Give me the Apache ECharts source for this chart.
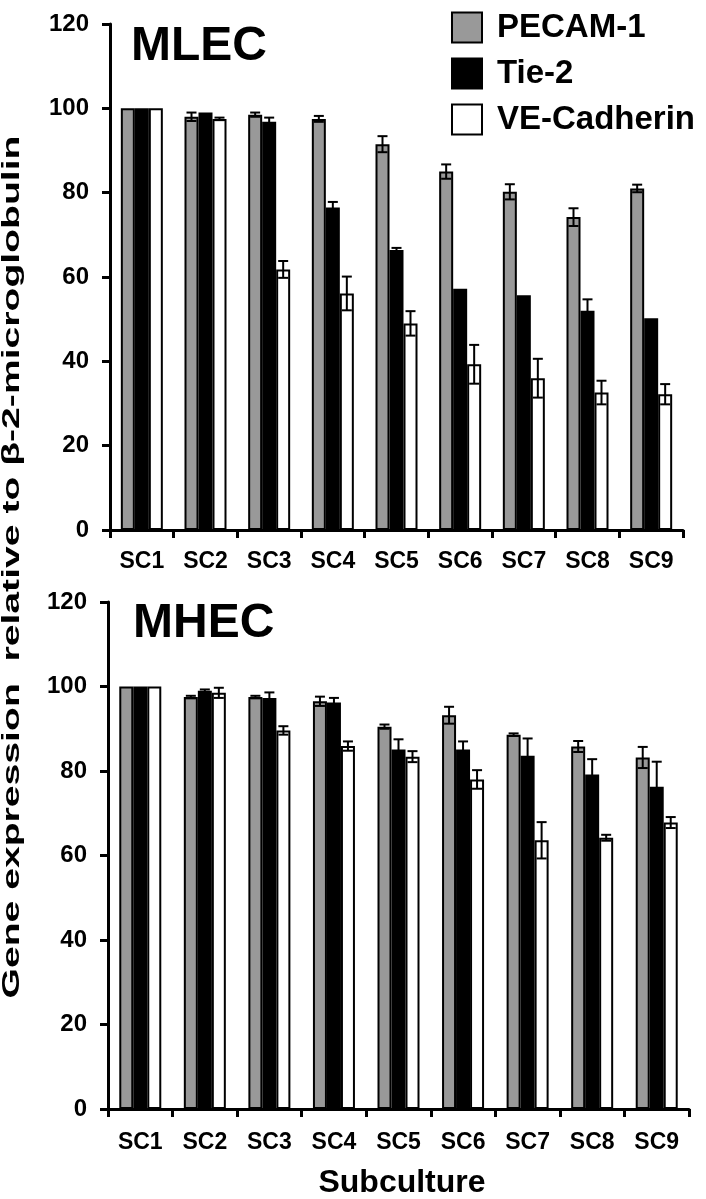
<!DOCTYPE html>
<html>
<head>
<meta charset="utf-8">
<script src="https://cdn.jsdelivr.net/npm/echarts@6/dist/echarts.min.js"></script>
<style>
  html, body { margin: 0; padding: 0; background: #fff; }
  #main { width: 706px; height: 1199px; }
</style>
</head>
<body>
<div id="main"></div>
<script>
// data
var categories = ['SC1', 'SC2', 'SC3', 'SC4', 'SC5', 'SC6', 'SC7', 'SC8', 'SC9'];
var seriesNames = ['PECAM-1', 'Tie-2', 'VE-Cadherin'];
var yTicks = [0, 20, 40, 60, 80, 100, 120];

// MLEC
var mlecPecam    = [100, 98, 98.5, 97.5, 91.5, 85, 80.2, 74.2, 81];
var mlecPecamErr = [0, 1, 0.5, 0.7, 1.9, 1.7, 1.8, 2.1, 0.9];
var mlecTie2     = [100, 99, 96.8, 76.5, 66.4, 57.2, 55.7, 52, 50.2];
var mlecTie2Err  = [0, 0, 1, 1.3, 0.5, 0, 0, 2.7, 0];
var mlecVe       = [100, 97.5, 61.8, 56.1, 49, 39.3, 36, 32.6, 32.2];
var mlecVeErr    = [0, 0.3, 2, 4, 2.9, 4.6, 4.6, 2.8, 2.4];

// MHEC
var mhecPecam    = [100, 97.5, 97.5, 96.5, 90.5, 93.2, 88.6, 85.8, 83.2];
var mhecPecamErr = [0, 0.3, 0.3, 1.1, 0.5, 2, 0.3, 1.3, 2.5];
var mhecTie2     = [100, 99, 97.3, 96.2, 85.1, 85.1, 83.6, 79.2, 76.3];
var mhecTie2Err  = [0, 0.3, 1.3, 1.1, 2.4, 1.9, 4.1, 3.6, 5.9];
var mhecVe       = [100, 98.5, 89.6, 85.9, 83.4, 78, 63.6, 64.2, 67.8];
var mhecVeErr    = [0, 1.2, 1, 1.1, 1.3, 2.2, 4.3, 0.7, 1.3];

var colors = ['#999999', '#000000', '#ffffff'];
var barW = 14;
var font = 'Liberation Sans, Arial, sans-serif';

function errSeries(name, values, errs, gridIdx, slot) {
  return {
    name: name + ' err',
    type: 'custom',
    xAxisIndex: gridIdx,
    yAxisIndex: gridIdx,
    z: 10,
    silent: true,
    data: values.map(function (v, i) { return [i, v, errs[i]]; }),
    renderItem: function (params, api) {
      var i = api.value(0), v = api.value(1), e = api.value(2);
      if (!e) return null;
      var dx = (slot - 1) * barW;
      var top = api.coord([i, v + e]);
      var bot = api.coord([i, v - e]);
      var x = top[0] + dx;
      var half = 5;
      var st = { stroke: '#000', lineWidth: 2 };
      return {
        type: 'group',
        children: [
          { type: 'line', shape: { x1: x, y1: top[1], x2: x, y2: bot[1] }, style: st },
          { type: 'line', shape: { x1: x - half, y1: top[1], x2: x + half, y2: top[1] }, style: st },
          { type: 'line', shape: { x1: x - half, y1: bot[1], x2: x + half, y2: bot[1] }, style: st }
        ]
      };
    }
  };
}

function barSeries(name, values, gridIdx, slot) {
  return {
    name: name,
    type: 'bar',
    xAxisIndex: gridIdx,
    yAxisIndex: gridIdx,
    barWidth: barW,
    barGap: '0%',
    data: values,
    itemStyle: { color: colors[slot], borderColor: '#000', borderWidth: 2 }
  };
}

function xAxis(gridIdx, margin) {
  return {
    type: 'category',
    gridIndex: gridIdx,
    data: categories,
    axisLine: { lineStyle: { color: '#000', width: 3 } },
    axisTick: { show: true, length: 8, lineStyle: { color: '#000', width: 3 } },
    axisLabel: { color: '#000', fontWeight: 'bold', fontSize: 23, fontFamily: font, margin: margin }
  };
}

function yAxis(gridIdx) {
  return {
    type: 'value',
    gridIndex: gridIdx,
    min: yTicks[0],
    max: yTicks[yTicks.length - 1],
    interval: 20,
    splitLine: { show: false },
    axisLine: { show: true, lineStyle: { color: '#000', width: 3 } },
    axisTick: { show: true, length: 8, lineStyle: { color: '#000', width: 3 } },
    axisLabel: { color: '#000', fontWeight: 'bold', fontSize: 24, fontFamily: font, margin: 21 }
  };
}

var option = {
  animation: false,
  backgroundColor: '#fff',
  grid: [
    { left: 110, right: 23, top: 24, height: 506 },
    { left: 108, right: 17, top: 602, height: 507 }
  ],
  legend: {
    data: seriesNames,
    orient: 'vertical',
    left: 446,
    top: 6,
    icon: 'rect',
    itemWidth: 30,
    itemHeight: 30,
    itemGap: 13,
    textStyle: { color: '#000', fontWeight: 'bold', fontSize: 33, fontFamily: font, padding: [4, 0, 0, 10] }
  },
  xAxis: [xAxis(0, 20), xAxis(1, 22)],
  yAxis: [yAxis(0), yAxis(1)],
  graphic: [
    { type: 'text', left: 131, top: 23, style: { text: 'MLEC', font: 'bold 48px ' + font, fill: '#000' } },
    { type: 'text', left: 133, top: 600, style: { text: 'MHEC', font: 'bold 48px ' + font, fill: '#000' } },
    {
      type: 'text', x: 12, y: 567, rotation: Math.PI / 2, scaleX: 1.63,
      style: {
        text: 'Gene expression  relative to \u03b2-2-microglobulin',
        font: 'bold 24px ' + font, fill: '#000', align: 'center', verticalAlign: 'middle'
      }
    },
    {
      type: 'text', x: 402, y: 1183,
      style: { text: 'Subculture', font: 'bold 32px ' + font, fill: '#000', align: 'center', verticalAlign: 'middle' }
    }
  ],
  series: [
    barSeries(seriesNames[0], mlecPecam, 0, 0),
    barSeries(seriesNames[1], mlecTie2, 0, 1),
    barSeries(seriesNames[2], mlecVe, 0, 2),
    barSeries(seriesNames[0], mhecPecam, 1, 0),
    barSeries(seriesNames[1], mhecTie2, 1, 1),
    barSeries(seriesNames[2], mhecVe, 1, 2),
    errSeries('PECAM-1', mlecPecam, mlecPecamErr, 0, 0),
    errSeries('Tie-2', mlecTie2, mlecTie2Err, 0, 1),
    errSeries('VE-Cadherin', mlecVe, mlecVeErr, 0, 2),
    errSeries('PECAM-1', mhecPecam, mhecPecamErr, 1, 0),
    errSeries('Tie-2', mhecTie2, mhecTie2Err, 1, 1),
    errSeries('VE-Cadherin', mhecVe, mhecVeErr, 1, 2)
  ]
};

var myChart = echarts.init(document.getElementById('main'));
myChart.setOption(option);
</script>
</body>
</html>
